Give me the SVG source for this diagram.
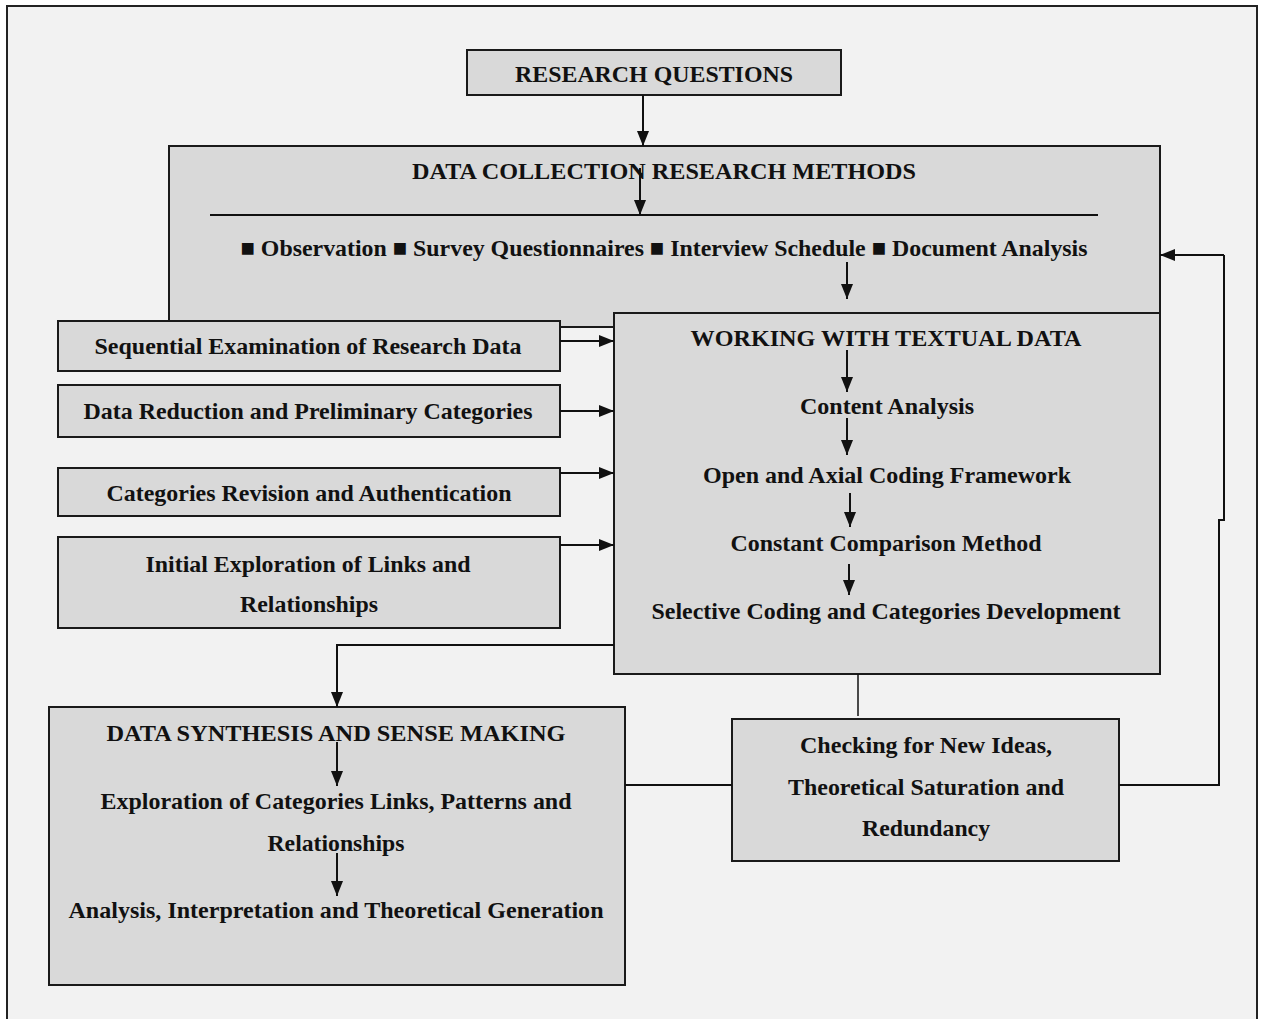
<svg xmlns="http://www.w3.org/2000/svg" width="1262" height="1019" viewBox="0 0 1262 1019">
  <style>
    .box { fill: #d9d9d9; stroke: #1a1a1a; stroke-width: 2; }
    .lbl { font-family: "Liberation Serif", "Times New Roman", serif; font-weight: bold; font-size: 24px; fill: #111; text-anchor: middle; }
    .ln { fill: none; stroke: #111; stroke-width: 2; }
    .arr { fill: none; stroke: #111; stroke-width: 2; marker-end: url(#head); }
    .thin { fill: none; stroke: #111; stroke-width: 1.5; }
  </style>
  <defs>
    <marker id="head" viewBox="0 0 15 12" refX="15" refY="6" markerWidth="15" markerHeight="12" markerUnits="userSpaceOnUse" orient="auto">
      <path d="M0,0 L15,6 L0,12 z" fill="#111"/>
    </marker>
  </defs>

  <!-- page background and frame -->
  <rect x="0" y="0" width="1262" height="1019" fill="#ffffff"/>
  <rect x="7" y="6" width="1250" height="1030" fill="#f2f2f2" stroke="#222" stroke-width="2"/>

  <g id="research-questions">
    <rect class="box" x="467" y="50" width="374" height="45"/>
    <text class="lbl" x="654" y="82" textLength="278" lengthAdjust="spacingAndGlyphs">RESEARCH QUESTIONS</text>
  </g>

  <g id="data-collection">
    <rect class="box" x="169" y="146" width="991" height="181"/>
    <text class="lbl" x="664" y="179" textLength="504" lengthAdjust="spacingAndGlyphs">DATA COLLECTION RESEARCH METHODS</text>
    <line class="ln" x1="210" y1="215" x2="1098" y2="215"/>
    <text class="lbl" x="664" y="256" textLength="847" lengthAdjust="spacingAndGlyphs">■ Observation ■ Survey Questionnaires ■ Interview Schedule ■ Document Analysis</text>
  </g>

  <g id="textual-data">
    <rect class="box" x="614" y="313" width="546" height="361"/>
    <text class="lbl" x="886" y="346" textLength="391" lengthAdjust="spacingAndGlyphs">WORKING WITH TEXTUAL DATA</text>
    <text class="lbl" x="887" y="414" textLength="174" lengthAdjust="spacingAndGlyphs">Content Analysis</text>
    <text class="lbl" x="887" y="483" textLength="368" lengthAdjust="spacingAndGlyphs">Open and Axial Coding Framework</text>
    <text class="lbl" x="886" y="551" textLength="311" lengthAdjust="spacingAndGlyphs">Constant Comparison Method</text>
    <text class="lbl" x="886" y="619" textLength="469" lengthAdjust="spacingAndGlyphs">Selective Coding and Categories Development</text>
  </g>

  <g id="sequential-examination">
    <rect class="box" x="58" y="321" width="502" height="50"/>
    <text class="lbl" x="308" y="354" textLength="427" lengthAdjust="spacingAndGlyphs">Sequential Examination of Research Data</text>
  </g>

  <g id="data-reduction">
    <rect class="box" x="58" y="385" width="502" height="52"/>
    <text class="lbl" x="308" y="419" textLength="449" lengthAdjust="spacingAndGlyphs">Data Reduction and Preliminary Categories</text>
  </g>

  <g id="categories-revision">
    <rect class="box" x="58" y="468" width="502" height="48"/>
    <text class="lbl" x="309" y="501" textLength="405" lengthAdjust="spacingAndGlyphs">Categories Revision and Authentication</text>
  </g>

  <g id="initial-exploration">
    <rect class="box" x="58" y="537" width="502" height="91"/>
    <text class="lbl" x="308" y="572" textLength="325" lengthAdjust="spacingAndGlyphs">Initial Exploration of Links and</text>
    <text class="lbl" x="309" y="612" textLength="138" lengthAdjust="spacingAndGlyphs">Relationships</text>
  </g>

  <g id="synthesis">
    <rect class="box" x="49" y="707" width="576" height="278"/>
    <text class="lbl" x="336" y="741" textLength="459" lengthAdjust="spacingAndGlyphs">DATA SYNTHESIS AND SENSE MAKING</text>
    <text class="lbl" x="336" y="809" textLength="471" lengthAdjust="spacingAndGlyphs">Exploration of Categories Links, Patterns and</text>
    <text class="lbl" x="336" y="851" textLength="137" lengthAdjust="spacingAndGlyphs">Relationships</text>
    <text class="lbl" x="336" y="918" textLength="535" lengthAdjust="spacingAndGlyphs">Analysis, Interpretation and Theoretical Generation</text>
  </g>

  <g id="saturation-check">
    <rect class="box" x="732" y="719" width="387" height="142"/>
    <text class="lbl" x="926" y="753" textLength="252" lengthAdjust="spacingAndGlyphs">Checking for New Ideas,</text>
    <text class="lbl" x="926" y="795" textLength="276" lengthAdjust="spacingAndGlyphs">Theoretical Saturation and</text>
    <text class="lbl" x="926" y="836" textLength="128" lengthAdjust="spacingAndGlyphs">Redundancy</text>
  </g>

  <g id="connectors">
    <line class="arr" x1="643" y1="95" x2="643" y2="146"/>
    <line class="arr" x1="640" y1="168" x2="640" y2="215"/>
    <line class="arr" x1="847" y1="262" x2="847" y2="299"/>
    <line class="arr" x1="847" y1="350" x2="847" y2="392"/>
    <line class="arr" x1="847" y1="418" x2="847" y2="455"/>
    <line class="arr" x1="850" y1="493" x2="850" y2="527"/>
    <line class="arr" x1="849" y1="564" x2="849" y2="595"/>
    <line class="arr" x1="560" y1="341" x2="614" y2="341"/>
    <line class="arr" x1="560" y1="411" x2="614" y2="411"/>
    <line class="arr" x1="560" y1="473" x2="614" y2="473"/>
    <line class="arr" x1="560" y1="545" x2="614" y2="545"/>
    <path class="arr" d="M614,645 H337 V707"/>
    <line class="arr" x1="337" y1="742" x2="337" y2="786"/>
    <line class="arr" x1="337" y1="853" x2="337" y2="896"/>
    <line class="thin" x1="858" y1="674" x2="858" y2="716"/>
    <line class="ln" x1="625" y1="785" x2="732" y2="785"/>
    <path class="ln" d="M1119,785 H1219 V520 H1224 V255"/>
    <line class="arr" x1="1224" y1="255" x2="1160" y2="255"/>
  </g>
</svg>
